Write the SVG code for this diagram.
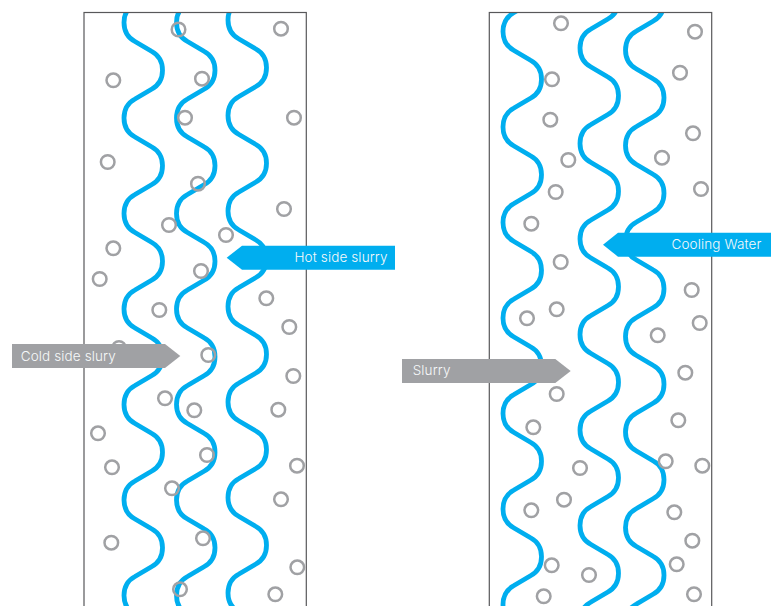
<svg xmlns="http://www.w3.org/2000/svg" width="774" height="606" viewBox="0 0 774 606">
<style>
.panel{fill:none;stroke:#58585a;stroke-width:1.2}
.wave{fill:none;stroke:#00aeef;stroke-width:4.8}
.dot{fill:none;stroke:#a0a1a4;stroke-width:2.5}
.blue{fill:#00aeef}
.grey{fill:#a0a1a4}
.lbl{font-family:Inter,"Liberation Sans",sans-serif;font-size:13.5px;font-weight:300;letter-spacing:.12px;fill:#f7f9fa}
</style>
<defs>
<path id="w" d="M0,-95.5c0,10 4.5,15.5 11,19l16.5,9.75c6.5,3.5 11,9 11,19c0,10 -4.5,15.5 -11,19l-16.5,9.75c-6.5,3.5 -11,9 -11,19c0,10 4.5,15.5 11,19l16.5,9.75c6.5,3.5 11,9 11,19c0,10 -4.5,15.5 -11,19l-16.5,9.75c-6.5,3.5 -11,9 -11,19c0,10 4.5,15.5 11,19l16.5,9.75c6.5,3.5 11,9 11,19c0,10 -4.5,15.5 -11,19l-16.5,9.75c-6.5,3.5 -11,9 -11,19c0,10 4.5,15.5 11,19l16.5,9.75c6.5,3.5 11,9 11,19c0,10 -4.5,15.5 -11,19l-16.5,9.75c-6.5,3.5 -11,9 -11,19c0,10 4.5,15.5 11,19l16.5,9.75c6.5,3.5 11,9 11,19c0,10 -4.5,15.5 -11,19l-16.5,9.75c-6.5,3.5 -11,9 -11,19c0,10 4.5,15.5 11,19l16.5,9.75c6.5,3.5 11,9 11,19c0,10 -4.5,15.5 -11,19l-16.5,9.75c-6.5,3.5 -11,9 -11,19c0,10 4.5,15.5 11,19l16.5,9.75c6.5,3.5 11,9 11,19c0,10 -4.5,15.5 -11,19l-16.5,9.75c-6.5,3.5 -11,9 -11,19c0,10 4.5,15.5 11,19l16.5,9.75c6.5,3.5 11,9 11,19c0,10 -4.5,15.5 -11,19l-16.5,9.75c-6.5,3.5 -11,9 -11,19"/>
<clipPath id="c"><rect x="0" y="12.5" width="774" height="594"/></clipPath>
</defs>
<g id="waves" clip-path="url(#c)">
<use href="#w" class="wave" transform="translate(124,22.5)"/>
<use href="#w" class="wave" transform="translate(176.5,22.5)"/>
<use href="#w" class="wave" transform="translate(228,20)"/>
<use href="#w" class="wave" transform="translate(503,31.5)"/>
<use href="#w" class="wave" transform="translate(580,48)"/>
<use href="#w" class="wave" transform="translate(625.5,50)"/>
</g>
<g id="panels">
<rect class="panel" x="84" y="12.5" width="222.3" height="620"/>
<rect class="panel" x="489.3" y="12.5" width="222.4" height="620"/>
</g>
<g id="particles-left">
<circle class="dot" r="6.8" cx="178.5" cy="29.5"/><circle class="dot" r="6.8" cx="281" cy="28.7"/><circle class="dot" r="6.8" cx="113.3" cy="80.3"/><circle class="dot" r="6.8" cx="202" cy="78.7"/><circle class="dot" r="6.8" cx="185" cy="117.7"/><circle class="dot" r="6.8" cx="294" cy="117.7"/><circle class="dot" r="6.8" cx="107.7" cy="162"/><circle class="dot" r="6.8" cx="198" cy="183.7"/><circle class="dot" r="6.8" cx="284" cy="209"/><circle class="dot" r="6.8" cx="169" cy="225"/><circle class="dot" r="6.8" cx="226" cy="235"/><circle class="dot" r="6.8" cx="113.3" cy="248.3"/><circle class="dot" r="6.8" cx="201" cy="271"/><circle class="dot" r="6.8" cx="99.7" cy="279"/><circle class="dot" r="6.8" cx="266.3" cy="298.3"/><circle class="dot" r="6.8" cx="159.3" cy="310"/><circle class="dot" r="6.8" cx="289.3" cy="327"/><circle class="dot" r="6.8" cx="119" cy="348"/><circle class="dot" r="6.8" cx="208.3" cy="355"/><circle class="dot" r="6.8" cx="293.3" cy="376"/><circle class="dot" r="6.8" cx="165" cy="398.3"/><circle class="dot" r="6.8" cx="194.3" cy="410.3"/><circle class="dot" r="6.8" cx="278.3" cy="409.7"/><circle class="dot" r="6.8" cx="98" cy="433.3"/><circle class="dot" r="6.8" cx="207" cy="455"/><circle class="dot" r="6.8" cx="112" cy="467.3"/><circle class="dot" r="6.8" cx="297" cy="465.7"/><circle class="dot" r="6.8" cx="172" cy="488.3"/><circle class="dot" r="6.8" cx="281" cy="499.3"/><circle class="dot" r="6.8" cx="111.3" cy="542.7"/><circle class="dot" r="6.8" cx="203" cy="538.3"/><circle class="dot" r="6.8" cx="297.3" cy="567.3"/><circle class="dot" r="6.8" cx="180" cy="589.3"/><circle class="dot" r="6.8" cx="275.3" cy="594.3"/>
</g>
<g id="particles-right">
<circle class="dot" r="6.8" cx="561" cy="23.3"/><circle class="dot" r="6.8" cx="695" cy="31.7"/><circle class="dot" r="6.8" cx="680" cy="72.7"/><circle class="dot" r="6.8" cx="552" cy="79.3"/><circle class="dot" r="6.8" cx="550.3" cy="119.7"/><circle class="dot" r="6.8" cx="693" cy="133.3"/><circle class="dot" r="6.8" cx="662" cy="157.7"/><circle class="dot" r="6.8" cx="568.3" cy="160"/><circle class="dot" r="6.8" cx="555.7" cy="192"/><circle class="dot" r="6.8" cx="701" cy="189"/><circle class="dot" r="6.8" cx="531.3" cy="223.7"/><circle class="dot" r="6.8" cx="560.7" cy="262"/><circle class="dot" r="6.8" cx="691.7" cy="290"/><circle class="dot" r="6.8" cx="527" cy="318.3"/><circle class="dot" r="6.8" cx="556.7" cy="309.3"/><circle class="dot" r="6.8" cx="699.7" cy="323"/><circle class="dot" r="6.8" cx="657.7" cy="335.3"/><circle class="dot" r="6.8" cx="685.3" cy="372.7"/><circle class="dot" r="6.8" cx="556.7" cy="394"/><circle class="dot" r="6.8" cx="678.3" cy="420.3"/><circle class="dot" r="6.8" cx="533.3" cy="427.3"/><circle class="dot" r="6.8" cx="665.7" cy="461.3"/><circle class="dot" r="6.8" cx="702.3" cy="465.7"/><circle class="dot" r="6.8" cx="580" cy="468"/><circle class="dot" r="6.8" cx="564" cy="499.7"/><circle class="dot" r="6.8" cx="531.3" cy="510.3"/><circle class="dot" r="6.8" cx="674.3" cy="512.3"/><circle class="dot" r="6.8" cx="692.3" cy="540.7"/><circle class="dot" r="6.8" cx="551.7" cy="565.3"/><circle class="dot" r="6.8" cx="676.7" cy="564.3"/><circle class="dot" r="6.8" cx="589" cy="575"/><circle class="dot" r="6.8" cx="543.7" cy="596.3"/><circle class="dot" r="6.8" cx="694" cy="594.3"/>
</g>
<g id="hot-side-slurry">
<polygon class="blue" points="226.7,257.7 242,245.7 395,245.7 395,269.7 242,269.7"/>
<text class="lbl" x="294.5" y="262">Hot side slurry</text>
</g>
<g id="cold-side-slury">
<polygon class="grey" points="12,344 165,344 180.3,356 165,368 12,368"/>
<text class="lbl" x="20.7" y="361">Cold side slury</text>
</g>
<g id="cooling-water">
<polygon class="blue" points="603,244.7 618,232.7 771,232.7 771,256.7 618,256.7"/>
<text class="lbl" x="671.5" y="249.3">Cooling Water</text>
</g>
<g id="slurry">
<polygon class="grey" points="402,359 555.3,359 570.7,371 555.3,383 402,383"/>
<text class="lbl" x="412.7" y="375">Slurry</text>
</g>
</svg>
